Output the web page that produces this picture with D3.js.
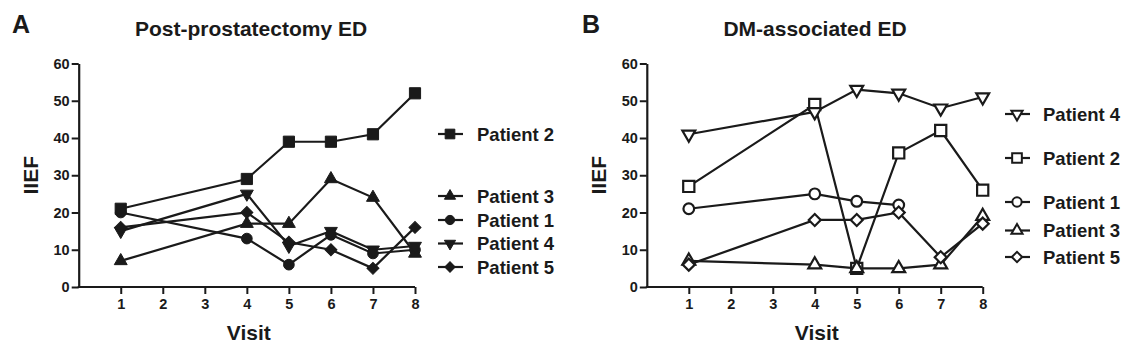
<!DOCTYPE html>
<html><head><meta charset="utf-8">
<script src="https://cdn.jsdelivr.net/npm/d3@7"></script>
<style>
html,body{margin:0;padding:0;background:#fff;}
text{font-family:"Liberation Sans",Arial,sans-serif;font-weight:bold;fill:#1a1a1a;}
</style></head>
<body><svg id="c" width="1130" height="355"></svg>
<script>
// ---- data ----
const visits = [1, 4, 5, 6, 7, 8];
const xTicks = [1, 2, 3, 4, 5, 6, 7, 8];
const yTicks = [0, 10, 20, 30, 40, 50, 60];
const panelLetters = ["A", "B"];
const panelTitles = ["Post-prostatectomy ED", "DM-associated ED"];
const xLabel = "Visit";
const yLabel = "IIEF";

// Panel A (filled markers)
const aPatient1 = [20, 13, 6, 14, 9, 10];
const aPatient2 = [21, 29, 39, 39, 41, 52];
const aPatient3 = [7, 17, 17, 29, 24, 9];
const aPatient4 = [15, 25, 11, 15, 10, 11];
const aPatient5 = [16, 20, 12, 10, 5, 16];
const aLegendOrder = ["Patient 2", "Patient 3", "Patient 1", "Patient 4", "Patient 5"];

// Panel B (open markers)
const bPatient1 = [21, 25, 23, 22, null, null];
const bPatient2 = [27, 49, 5, 36, 42, 26];
const bPatient3 = [7, 6, 5, 5, 6, 19];
const bPatient4 = [41, 47, 53, 52, 48, 51];
const bPatient5 = [6, 18, 18, 20, 8, 17];
const bLegendOrder = ["Patient 4", "Patient 2", "Patient 1", "Patient 3", "Patient 5"];

// ---- layout ----
const panels = [
  {
    letter: panelLetters[0], title: panelTitles[0], filled: true,
    x0: 78.7, x1: 415, letterX: 12, titleX: 251, ylabX: 31,
    legendMarkX: 450, legendTextX: 477, legendY: [134, 196, 220, 243.5, 267],
    series: {"Patient 1": aPatient1, "Patient 2": aPatient2, "Patient 3": aPatient3, "Patient 4": aPatient4, "Patient 5": aPatient5},
    legend: aLegendOrder
  },
  {
    letter: panelLetters[1], title: panelTitles[1], filled: false,
    x0: 646.8, x1: 982.7, letterX: 582, titleX: 815, ylabX: 599,
    legendMarkX: 1017, legendTextX: 1043, legendY: [114, 158, 202, 230.5, 257],
    series: {"Patient 1": bPatient1, "Patient 2": bPatient2, "Patient 3": bPatient3, "Patient 4": bPatient4, "Patient 5": bPatient5},
    legend: bLegendOrder
  }
];
const yTop = 63.5, yBot = 287;

const shapes = {
  "Patient 1": {type: d3.symbolCircle, size: 90, rot: 0},
  "Patient 2": {type: d3.symbolSquare, size: 125, rot: 0},
  "Patient 3": {type: d3.symbolTriangle, size: 72, rot: 0},
  "Patient 4": {type: d3.symbolTriangle, size: 72, rot: 180},
  "Patient 5": {type: d3.symbolSquare, size: 72, rot: 45}
};

const svg = d3.select("#c");
svg.append("rect").attr("width", 1130).attr("height", 355).attr("fill", "#fff");

panels.forEach(p => {
  const g = svg.append("g");
  const x = d3.scaleLinear().domain([0, 8]).range([p.x0, p.x1]);
  const y = d3.scaleLinear().domain([0, 60]).range([yBot, yTop]);

  // axes
  const xa = g.append("g").attr("transform", `translate(0,${yBot})`)
    .call(d3.axisBottom(x).tickValues(xTicks).tickFormat(d3.format("d")).tickSize(7).tickPadding(5).tickSizeOuter(0));
  const ya = g.append("g").attr("transform", `translate(${p.x0},0)`)
    .call(d3.axisLeft(y).tickValues(yTicks).tickSize(7).tickPadding(2).tickSizeOuter(0));
  [xa, ya].forEach(a => {
    a.select(".domain").attr("stroke", "#1a1a1a").attr("stroke-width", 2.2);
    a.selectAll(".tick line").attr("stroke", "#1a1a1a").attr("stroke-width", 2);
    a.selectAll(".tick text").style("font-size", "14.5px").style("font-family", "'Liberation Sans',Arial,sans-serif").style("font-weight", "bold").attr("fill", "#1a1a1a");
  });
  xa.select(".domain").attr("d", `M${p.x0 - 1},0H${p.x1}`);

  // labels
  g.append("text").attr("x", p.letterX).attr("y", 33).style("font-size", "25px").text(p.letter);
  g.append("text").attr("x", p.titleX).attr("y", 36).attr("text-anchor", "middle").style("font-size", "21px").text(p.title);
  g.append("text").attr("x", (p.x0 + p.x1) / 2 + 2).attr("y", 340).attr("text-anchor", "middle").style("font-size", "21px").text(xLabel);
  g.append("text").attr("transform", `translate(${p.ylabX + 7},${(yTop + yBot) / 2}) rotate(-90)`).attr("text-anchor", "middle").style("font-size", "21px").text(yLabel);

  const line = d3.line().defined(d => d.v != null).x(d => x(d.vis)).y(d => y(d.v));
  const names = Object.keys(p.series);
  names.forEach(name => {
    const pts = visits.map((vis, i) => ({vis, v: p.series[name][i]}));
    g.append("path").datum(pts).attr("d", line).attr("fill", "none").attr("stroke", "#1a1a1a").attr("stroke-width", 2.2);
  });
  names.forEach(name => {
    const pts = visits.map((vis, i) => ({vis, v: p.series[name][i]})).filter(d => d.v != null);
    const sh = shapes[name];
    const sym = d3.symbol().type(sh.type).size(sh.size);
    g.selectAll(null).data(pts).enter().append("path")
      .attr("d", sym)
      .attr("transform", d => `translate(${x(d.vis)},${y(d.v)}) rotate(${sh.rot})`)
      .attr("fill", p.filled ? "#1a1a1a" : "#fff")
      .attr("stroke", "#1a1a1a").attr("stroke-width", p.filled ? 1 : 2.2);
  });

  // legend
  p.legend.forEach((name, i) => {
    const ly = p.legendY[i];
    g.append("line").attr("x1", p.legendMarkX - 12).attr("x2", p.legendMarkX + 13).attr("y1", ly).attr("y2", ly)
      .attr("stroke", "#1a1a1a").attr("stroke-width", 2.2);
    const sh = shapes[name];
    g.append("path").attr("d", d3.symbol().type(sh.type).size(sh.size * 0.75))
      .attr("transform", `translate(${p.legendMarkX},${ly}) rotate(${sh.rot})`)
      .attr("fill", p.filled ? "#1a1a1a" : "#fff").attr("stroke", "#1a1a1a").attr("stroke-width", p.filled ? 1 : 2);
    g.append("text").attr("x", p.legendTextX).attr("y", ly).attr("dy", "0.36em").style("font-size", "18.5px").text(name);
  });
});
</script></body></html>
